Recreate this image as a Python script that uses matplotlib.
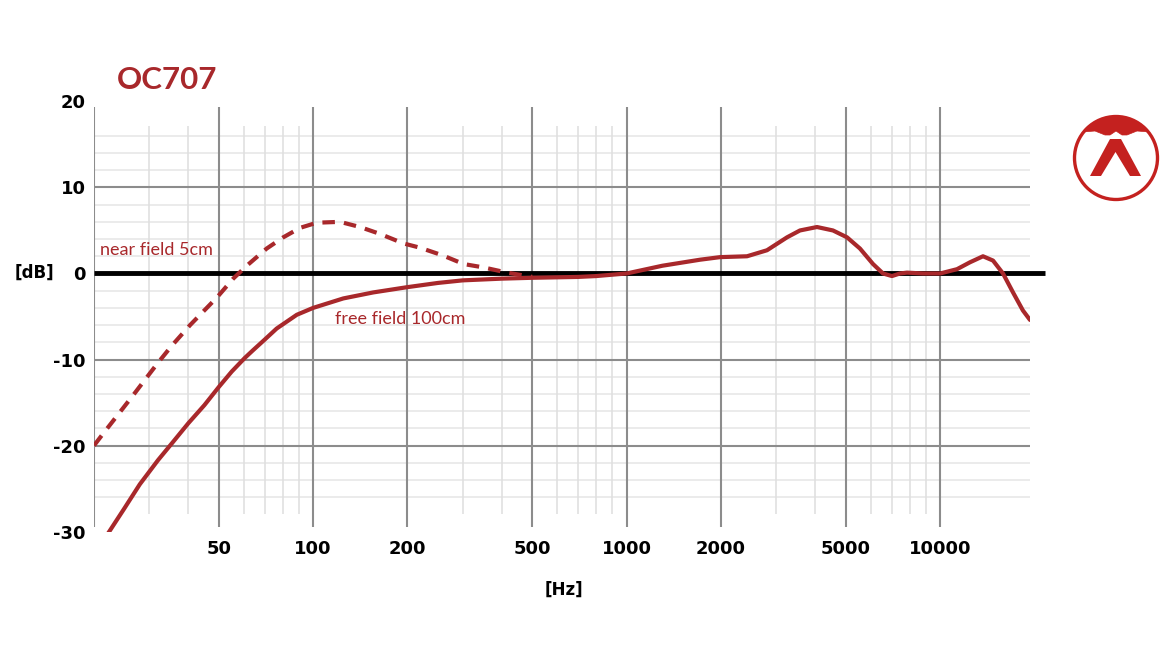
import numpy as np
import matplotlib.pyplot as plt
from matplotlib.patches import Circle, Polygon

# frequency response: (Hz, dB)
free_hz = [22, 25, 28, 32, 35.7, 40, 45, 50, 55, 60.6, 64.4, 70, 76.5, 88.7, 100,
           124.8, 155.6, 198.8, 250, 300, 400, 500, 700, 800, 1000, 1300, 1714, 1986,
           2421, 2804, 3248, 3572, 4048, 4552, 5048, 5550, 6108, 6574, 7020, 7448,
           7838, 8814, 10000, 11320, 12450, 13700, 14750, 15870, 17080, 18370, 19350]
free_db = [-30.4, -27.3, -24.5, -21.7, -19.6, -17.4, -15.3, -13.2, -11.4, -9.8, -8.9,
           -7.7, -6.4, -4.8, -4.0, -2.9, -2.2, -1.6, -1.1, -0.8, -0.6, -0.5, -0.4,
           -0.3, 0.0, 0.9, 1.6, 1.9, 2.0, 2.7, 4.2, 5.0, 5.4, 5.0, 4.2, 2.9, 1.1, 0.0,
           -0.3, 0.0, 0.1, 0.0, 0.0, 0.5, 1.3, 2.0, 1.5, 0.0, -2.2, -4.3, -5.4]

near_hz = [20, 21.4, 26.6, 31.8, 35.4, 40.5, 49.3, 55.6, 61.4, 71.1, 80.3, 90.8,
           102.7, 121.8, 141.1, 163.4, 193.9, 219, 259, 302, 350, 416, 500]
near_db = [-20.0, -18.6, -14.2, -10.5, -8.4, -6.0, -2.8, -0.6, 0.9, 2.9, 4.2, 5.3,
           5.9, 6.0, 5.4, 4.6, 3.5, 3.0, 2.1, 1.1, 0.7, 0.1, -0.4]

major_hz = [50, 100, 200, 500, 1000, 2000, 5000, 10000]
major_lbl = ["50", "100", "200", "500", "1000", "2000", "5000", "10000"]
minor_hz = [30, 40, 60, 70, 80, 90, 300, 400, 600, 700, 800, 900,
            3000, 4000, 6000, 7000, 8000, 9000]
y_ticks = [20, 10, 0, -10, -20, -30]

red = "#a8282b"
W, H = 1174, 667
fig = plt.figure(figsize=(W / 100, H / 100), dpi=100)
ax = fig.add_axes([94 / W, 1 - 531.6 / H, 936 / W, 430.2 / H])
ax.set_xscale("log")
ax.set_xlim(20, 19350)
ax.set_ylim(-30, 20)
for s in ax.spines.values():
    s.set_visible(False)

# grid
minor_db = [d for d in range(16, -27, -2) if d % 10 != 0]
ax.hlines(minor_db, 20, 19350, color="#e6e6e6", lw=1.1, zorder=1)
ax.vlines(minor_hz, -27.9, 17.1, color="#e0e0e0", lw=1.2, zorder=1)
ax.hlines([10, -10, -20], 20, 19350, color="#8c8c8c", lw=1.5, zorder=2)
ax.vlines([20] + major_hz, -29.5, 19.3, color="#8c8c8c", lw=1.5, zorder=2)
ax.plot([0, 1.016], [0.6, 0.6], transform=ax.transAxes, color="black", lw=3.5,
        clip_on=False, zorder=3, solid_capstyle="butt")

ax.plot(free_hz, free_db, color=red, lw=3, zorder=4, solid_capstyle="round",
        solid_joinstyle="round")
ax.plot(near_hz, near_db, color=red, lw=3, zorder=4, dashes=(3, 2.2))

tick_font = dict(family="DejaVu Sans", weight="bold", size=13)
ax.set_xticks(major_hz)
ax.set_xticklabels(major_lbl, **tick_font)
ax.set_xticks([], minor=True)
ax.set_yticks(y_ticks)
ax.set_yticklabels([str(v) for v in y_ticks], **tick_font)
ax.tick_params(length=0)
ax.tick_params(axis="x", pad=6)
ax.tick_params(axis="y", pad=6)

ax.text(20.9, 2.1, "near field 5cm", color=red, fontsize=13, family="Lato",
        va="baseline", ha="left")
ax.text(117, -5.9, "free field 100cm", color=red, fontsize=13, family="Lato",
        va="baseline", ha="left")

fig.text(117 / W, 1 - 80 / H, "OC707", color=red, fontsize=22.5, family="Lato",
         weight="bold", va="center", ha="left")
fig.text(34 / W, 1 - 273 / H, "[dB]", fontsize=12, family="DejaVu Sans",
         weight="bold", va="center", ha="center")
fig.text(564 / W, 1 - 590 / H, "[Hz]", fontsize=12, family="DejaVu Sans",
         weight="bold", va="center", ha="center")

# logo
lax = fig.add_axes([0, 0, 1, 1])
lax.set_xlim(0, W)
lax.set_ylim(H, 0)
lax.axis("off")
logo = "#c4211f"
cx, cy, r = 1116, 158, 41.5
lax.add_patch(Circle((cx, cy), r, fill=False, ec=logo, lw=2.4))
ang = np.linspace(np.radians(219), np.radians(321), 40)
arc = [(cx + r * np.cos(a), cy + r * np.sin(a)) for a in ang]
cap = arc + [(1137, 131), (1127, 135), (1122, 135), (1116, 131), (1110, 135),
             (1105, 135), (1095, 131)]
lax.add_patch(Polygon(cap, closed=True, fc=logo, ec=logo, lw=0.5))
chev = [(1090, 176), (1110, 139), (1121, 139), (1141, 176), (1130, 176),
        (1115.5, 152), (1101, 176)]
lax.add_patch(Polygon(chev, closed=True, fc=logo, ec="none"))

fig.savefig("out.png", dpi=100)
